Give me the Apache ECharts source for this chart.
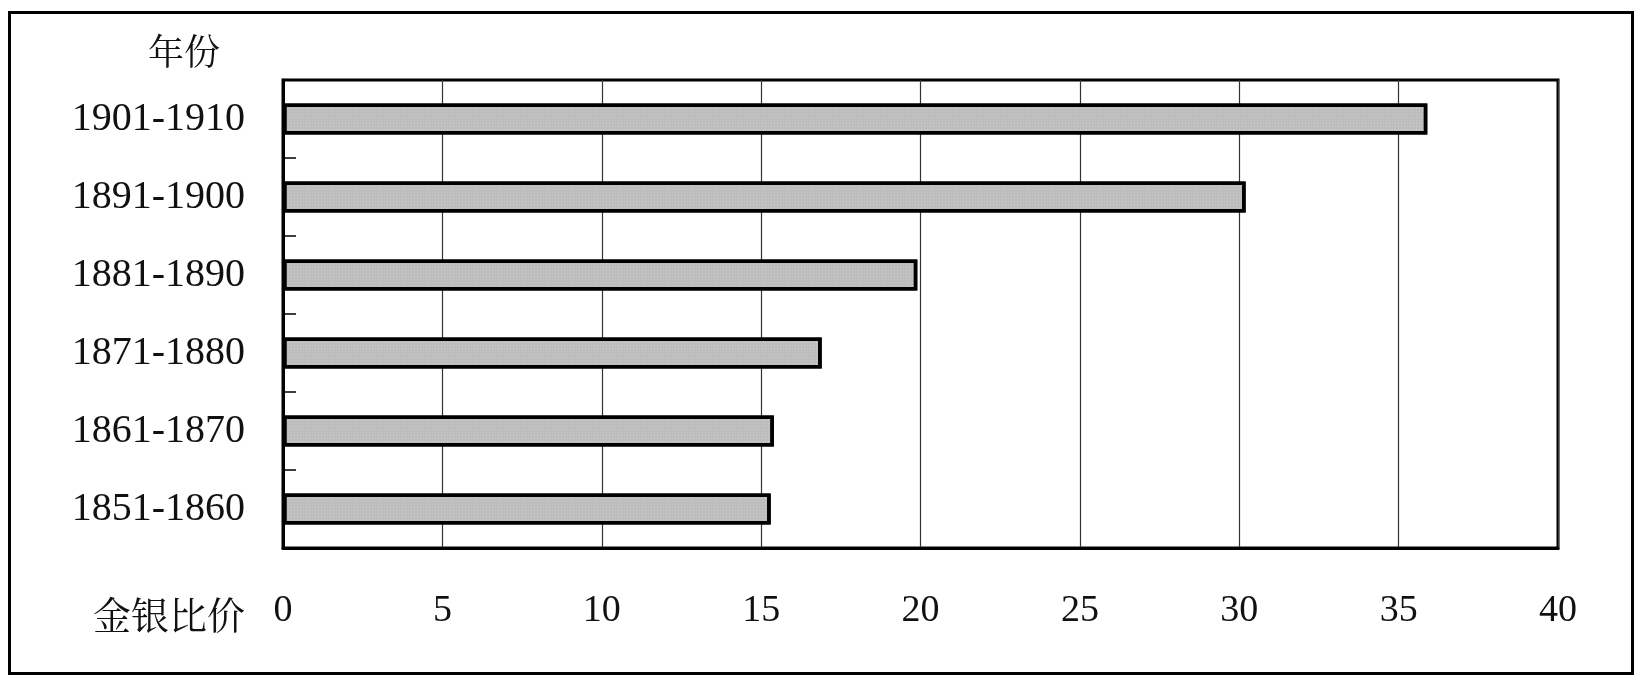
<!DOCTYPE html>
<html>
<head>
<meta charset="utf-8">
<script src="https://cdn.jsdelivr.net/npm/echarts@6/dist/echarts.min.js"></script>
<style>
html,body{margin:0;padding:0;background:#fff;}
#chart{width:1640px;height:680px;}
</style>
</head>
<body>
<div id="chart"></div>
<script>
// Data
const categories = ['1851-1860', '1861-1870', '1871-1880', '1881-1890', '1891-1900', '1901-1910'];
const ratioValues = [15.3, 15.4, 16.9, 19.9, 30.2, 35.9];
const xTicks = { min: 0, max: 40, interval: 5 };
const yAxisTitle = '年份';
const xAxisTitle = '金银比价';

const serif = "'Liberation Serif','Times New Roman',serif";
const cjk = "'Noto Serif CJK SC','Noto Sans CJK SC',sans-serif";

const chart = echarts.init(document.getElementById('chart'), null, { renderer: 'canvas' });
chart.setOption({
  backgroundColor: '#ffffff',
  animation: false,
  grid: {
    left: 283, right: 82, top: 80, bottom: 132,
    show: true, borderColor: '#000', borderWidth: 3, backgroundColor: 'transparent'
  },
  xAxis: {
    type: 'value',
    min: xTicks.min, max: xTicks.max, interval: xTicks.interval,
    axisLine: { show: true, lineStyle: { color: '#000', width: 3 } },
    axisTick: { show: false },
    splitLine: { show: true, lineStyle: { color: '#333', width: 1.2 } },
    axisLabel: { color: '#111', fontFamily: serif, fontSize: 38, margin: 44 }
  },
  yAxis: {
    type: 'category',
    data: categories,
    axisLine: { show: true, lineStyle: { color: '#000', width: 3 } },
    axisTick: { show: true, inside: true, length: 13, lineStyle: { color: '#000', width: 1.5 } },
    splitLine: { show: false },
    axisLabel: { color: '#111', fontFamily: serif, fontSize: 40, margin: 38 }
  },
  series: [{
    type: 'bar',
    data: ratioValues,
    barWidth: 31,
    itemStyle: {
      color: '#bdbdbd', borderColor: '#000', borderWidth: 3.5,
      decal: { symbol: 'rect', symbolSize: 1, dashArrayX: [1, 2], dashArrayY: [1, 2], color: 'rgba(255,255,255,0.25)' }
    }
  }],
  aria: { enabled: false, decal: { show: false } },
  graphic: [
    { type: 'rect', left: 7, top: 10, z: 100, silent: true,
      shape: { width: 1623, height: 661 },
      style: { fill: 'none', stroke: '#000', lineWidth: 3 } },
    { type: 'text', x: 184, y: 51, z: 100,
      style: { text: yAxisTitle, fill: '#111', font: '36px ' + cjk, textAlign: 'center', textVerticalAlign: 'middle' } },
    { type: 'text', x: 245, y: 615, z: 100,
      style: { text: xAxisTitle, fill: '#111', font: '38px ' + cjk, textAlign: 'right', textVerticalAlign: 'middle' } }
  ]
});
</script>
</body>
</html>
